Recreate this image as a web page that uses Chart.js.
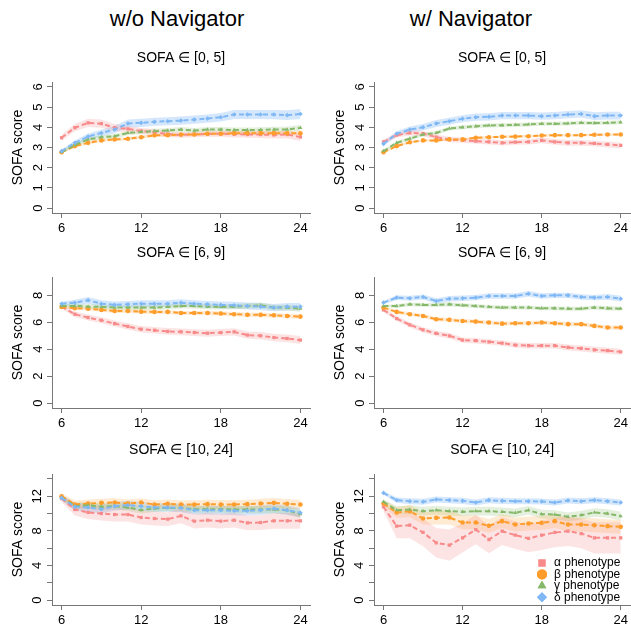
<!DOCTYPE html>
<html>
<head>
<meta charset="utf-8">
<script src="https://cdn.jsdelivr.net/npm/chart.js@4.4.1/dist/chart.umd.min.js"></script>
<style>
  body { margin: 0; background: #fff; }
  #wrap { position: relative; width: 631px; height: 631px; overflow: hidden;
          font-family: "Liberation Sans", Arial, sans-serif; }
  #wrap canvas { position: absolute; }
  .head { position: absolute; top: 6px; font-size: 22px; color: #000;
          transform: translateX(-50%); white-space: nowrap; }
</style>
</head>
<body>
<div id="wrap">
  <div class="head" style="left:177px">w/o Navigator</div>
  <div class="head" style="left:471px">w/ Navigator</div>
  <canvas id="c00" width="315" height="205" style="left:0;top:40px"></canvas>
  <canvas id="c01" width="316" height="205" style="left:315px;top:40px"></canvas>
  <canvas id="c10" width="315" height="205" style="left:0;top:235px"></canvas>
  <canvas id="c11" width="316" height="205" style="left:315px;top:235px"></canvas>
  <canvas id="c20" width="315" height="205" style="left:0;top:432px"></canvas>
  <canvas id="c21" width="316" height="205" style="left:315px;top:432px"></canvas>
</div>
<script>
// hours after admission
const hours = [6, 7, 8, 9, 10, 11, 12, 13, 14, 15, 16, 17, 18, 19, 20, 21, 22, 23, 24];
const xTicks = [6, 12, 18, 24];
const phenotypes = ['α phenotype', 'β phenotype', 'γ phenotype', 'δ phenotype'];

// SOFA in [0, 5], without navigator
const wo05Alpha = [3.48, 3.98, 4.22, 4.18, 3.98, 3.92, 3.82, 3.76, 3.66, 3.62, 3.65, 3.67, 3.68, 3.66, 3.64, 3.64, 3.62, 3.64, 3.52];
const wo05Beta  = [2.77, 3.07, 3.23, 3.35, 3.40, 3.43, 3.51, 3.60, 3.61, 3.64, 3.64, 3.68, 3.68, 3.71, 3.71, 3.71, 3.71, 3.70, 3.70];
const wo05Gamma = [2.77, 3.12, 3.40, 3.51, 3.56, 3.72, 3.77, 3.81, 3.84, 3.89, 3.84, 3.89, 3.89, 3.86, 3.86, 3.87, 3.89, 3.89, 3.97];
const wo05Delta = [2.82, 3.23, 3.54, 3.72, 3.89, 4.19, 4.22, 4.27, 4.30, 4.33, 4.38, 4.43, 4.50, 4.63, 4.63, 4.63, 4.63, 4.60, 4.66];
const wo05AlphaCi = [0.15, 0.18, 0.20, 0.20, 0.18, 0.16, 0.15, 0.15, 0.14, 0.14, 0.14, 0.15, 0.15, 0.16, 0.16, 0.17, 0.18, 0.19, 0.20];
const wo05BetaCi  = [0.06, 0.07, 0.08, 0.08, 0.08, 0.08, 0.08, 0.08, 0.08, 0.08, 0.08, 0.08, 0.09, 0.09, 0.09, 0.09, 0.10, 0.10, 0.10];
const wo05GammaCi = [0.07, 0.09, 0.10, 0.10, 0.11, 0.11, 0.11, 0.12, 0.12, 0.12, 0.12, 0.12, 0.13, 0.13, 0.13, 0.13, 0.14, 0.14, 0.15];
const wo05DeltaCi = [0.08, 0.12, 0.15, 0.16, 0.18, 0.20, 0.20, 0.20, 0.20, 0.20, 0.20, 0.20, 0.21, 0.22, 0.22, 0.22, 0.23, 0.24, 0.25];

// SOFA in [0, 5], with navigator
const w05Alpha = [3.28, 3.61, 3.72, 3.69, 3.51, 3.40, 3.36, 3.31, 3.28, 3.23, 3.26, 3.28, 3.35, 3.28, 3.23, 3.23, 3.20, 3.15, 3.10];
const w05Beta  = [2.77, 3.07, 3.26, 3.35, 3.35, 3.40, 3.40, 3.48, 3.51, 3.53, 3.54, 3.56, 3.59, 3.61, 3.61, 3.61, 3.63, 3.64, 3.64];
const w05Gamma = [2.82, 3.23, 3.44, 3.64, 3.72, 3.94, 4.00, 4.05, 4.09, 4.10, 4.12, 4.14, 4.17, 4.17, 4.19, 4.22, 4.21, 4.22, 4.25];
const w05Delta = [3.18, 3.68, 3.89, 4.00, 4.19, 4.30, 4.42, 4.50, 4.52, 4.58, 4.58, 4.58, 4.55, 4.58, 4.63, 4.66, 4.55, 4.58, 4.58];
const w05AlphaCi = [0.10, 0.12, 0.13, 0.13, 0.13, 0.13, 0.13, 0.13, 0.13, 0.13, 0.13, 0.13, 0.14, 0.14, 0.14, 0.14, 0.14, 0.15, 0.15];
const w05BetaCi  = [0.05, 0.06, 0.06, 0.06, 0.06, 0.06, 0.06, 0.06, 0.06, 0.06, 0.06, 0.06, 0.06, 0.06, 0.06, 0.07, 0.07, 0.07, 0.07];
const w05GammaCi = [0.06, 0.08, 0.09, 0.10, 0.10, 0.10, 0.10, 0.10, 0.10, 0.10, 0.10, 0.10, 0.10, 0.10, 0.10, 0.10, 0.10, 0.10, 0.10];
const w05DeltaCi = [0.10, 0.13, 0.15, 0.16, 0.17, 0.17, 0.17, 0.18, 0.18, 0.18, 0.18, 0.18, 0.18, 0.18, 0.18, 0.18, 0.19, 0.19, 0.19];

// SOFA in [6, 9], without navigator
const wo69Alpha = [7.16, 6.60, 6.35, 6.15, 5.90, 5.69, 5.49, 5.41, 5.32, 5.29, 5.24, 5.19, 5.24, 5.29, 5.05, 5.00, 4.87, 4.80, 4.68];
const wo69Beta  = [7.14, 7.04, 7.01, 6.92, 6.84, 6.84, 6.79, 6.77, 6.77, 6.69, 6.69, 6.69, 6.65, 6.60, 6.55, 6.55, 6.52, 6.47, 6.42];
const wo69Gamma = [7.21, 7.21, 7.16, 7.14, 7.09, 7.09, 7.09, 7.09, 7.14, 7.21, 7.21, 7.16, 7.14, 7.16, 7.21, 7.26, 7.09, 7.09, 7.01];
const wo69Delta = [7.38, 7.45, 7.63, 7.38, 7.29, 7.33, 7.38, 7.38, 7.38, 7.45, 7.38, 7.33, 7.29, 7.26, 7.21, 7.16, 7.09, 7.16, 7.16];
const wo69AlphaCi = [0.15, 0.20, 0.22, 0.22, 0.23, 0.23, 0.24, 0.24, 0.25, 0.25, 0.25, 0.26, 0.26, 0.27, 0.27, 0.28, 0.28, 0.29, 0.30];
const wo69BetaCi  = [0.10, 0.13, 0.14, 0.14, 0.15, 0.15, 0.15, 0.15, 0.15, 0.15, 0.15, 0.16, 0.16, 0.16, 0.16, 0.17, 0.17, 0.17, 0.18];
const wo69GammaCi = [0.12, 0.16, 0.17, 0.18, 0.18, 0.18, 0.18, 0.18, 0.18, 0.18, 0.18, 0.19, 0.19, 0.19, 0.20, 0.20, 0.20, 0.21, 0.22];
const wo69DeltaCi = [0.15, 0.22, 0.25, 0.25, 0.25, 0.25, 0.25, 0.25, 0.25, 0.25, 0.25, 0.25, 0.26, 0.26, 0.26, 0.27, 0.27, 0.28, 0.28];

// SOFA in [6, 9], with navigator
const w69Alpha = [6.92, 6.28, 5.81, 5.44, 5.17, 5.00, 4.68, 4.63, 4.55, 4.45, 4.31, 4.26, 4.26, 4.26, 4.13, 4.06, 3.96, 3.89, 3.81];
const w69Beta  = [7.09, 6.77, 6.60, 6.47, 6.23, 6.18, 6.10, 6.05, 5.98, 5.90, 5.93, 5.93, 5.98, 5.93, 5.86, 5.86, 5.73, 5.61, 5.61];
const w69Gamma = [7.21, 7.21, 7.33, 7.29, 7.29, 7.33, 7.26, 7.21, 7.14, 7.09, 7.09, 7.09, 7.04, 7.04, 7.01, 7.01, 7.09, 7.04, 7.01];
const w69Delta = [7.46, 7.83, 7.78, 7.88, 7.58, 7.75, 7.78, 7.83, 7.95, 7.95, 7.95, 8.12, 7.95, 8.00, 8.00, 7.88, 7.83, 7.88, 7.75];
const w69AlphaCi = [0.15, 0.18, 0.20, 0.20, 0.20, 0.20, 0.20, 0.20, 0.20, 0.20, 0.20, 0.20, 0.21, 0.21, 0.22, 0.22, 0.22, 0.23, 0.23];
const w69BetaCi  = [0.10, 0.13, 0.14, 0.14, 0.15, 0.15, 0.15, 0.15, 0.15, 0.15, 0.15, 0.15, 0.15, 0.15, 0.16, 0.16, 0.16, 0.16, 0.16];
const w69GammaCi = [0.10, 0.13, 0.14, 0.14, 0.15, 0.15, 0.15, 0.15, 0.15, 0.15, 0.15, 0.15, 0.15, 0.15, 0.15, 0.15, 0.15, 0.16, 0.16];
const w69DeltaCi = [0.12, 0.18, 0.19, 0.19, 0.20, 0.20, 0.20, 0.20, 0.20, 0.20, 0.20, 0.20, 0.20, 0.20, 0.20, 0.20, 0.20, 0.21, 0.21];

// SOFA in [10, 24], without navigator
const wo1024Alpha = [11.73, 10.46, 10.12, 10.00, 9.88, 9.88, 9.54, 9.42, 9.35, 9.73, 9.12, 9.23, 9.12, 9.23, 8.92, 8.96, 9.15, 9.15, 9.15];
const wo1024Beta  = [12.00, 11.04, 11.15, 11.23, 11.27, 11.15, 11.27, 11.04, 11.12, 11.04, 11.04, 11.08, 11.04, 11.04, 11.08, 11.15, 11.23, 11.12, 11.04];
const wo1024Gamma = [11.85, 10.85, 10.96, 10.77, 10.85, 10.69, 10.38, 10.58, 10.65, 10.65, 10.50, 10.50, 10.50, 10.46, 10.46, 10.46, 10.46, 10.38, 9.92];
const wo1024Delta = [11.80, 10.77, 10.69, 10.50, 10.85, 10.96, 10.85, 10.69, 10.69, 10.65, 10.38, 10.38, 10.38, 10.31, 10.31, 10.38, 10.58, 10.38, 10.08];
const wo1024AlphaCi = [0.40, 0.70, 0.75, 0.80, 0.80, 0.80, 0.80, 0.80, 0.80, 0.85, 0.85, 0.85, 0.85, 0.85, 0.85, 0.85, 0.90, 0.90, 0.90];
const wo1024BetaCi  = [0.30, 0.45, 0.48, 0.50, 0.50, 0.50, 0.50, 0.50, 0.50, 0.50, 0.50, 0.50, 0.52, 0.52, 0.52, 0.55, 0.55, 0.55, 0.55];
const wo1024GammaCi = [0.30, 0.38, 0.40, 0.40, 0.40, 0.40, 0.40, 0.40, 0.40, 0.40, 0.40, 0.40, 0.42, 0.42, 0.42, 0.42, 0.44, 0.45, 0.45];
const wo1024DeltaCi = [0.30, 0.45, 0.48, 0.50, 0.50, 0.50, 0.50, 0.50, 0.50, 0.50, 0.50, 0.50, 0.52, 0.52, 0.53, 0.54, 0.55, 0.55, 0.55];

// SOFA in [10, 24], with navigator
const w1024Alpha = [10.77, 8.54, 8.65, 7.81, 6.62, 6.35, 7.19, 8.15, 7.00, 7.96, 7.50, 7.12, 7.50, 7.81, 7.96, 7.69, 7.19, 7.19, 7.19];
const w1024Beta  = [11.15, 10.12, 10.27, 9.42, 9.50, 9.54, 8.96, 8.96, 8.58, 9.12, 8.73, 8.85, 8.92, 9.12, 8.73, 8.73, 8.65, 8.54, 8.46];
const w1024Gamma = [11.35, 10.38, 10.46, 10.27, 10.38, 10.27, 10.19, 10.27, 10.27, 10.19, 10.08, 10.38, 9.92, 9.88, 9.62, 9.81, 10.12, 10.00, 9.69];
const w1024Delta = [12.38, 11.54, 11.42, 11.35, 11.62, 11.54, 11.46, 11.27, 11.54, 11.46, 11.42, 11.42, 11.38, 11.27, 11.50, 11.42, 11.54, 11.42, 11.27];
const w1024AlphaCi = [0.50, 1.40, 1.50, 1.60, 1.70, 1.80, 1.70, 1.70, 1.60, 1.60, 1.60, 1.60, 1.70, 1.70, 1.70, 1.70, 1.80, 1.80, 1.80];
const w1024BetaCi  = [0.40, 0.60, 0.70, 0.70, 0.80, 0.80, 0.80, 0.80, 0.80, 0.80, 0.80, 0.80, 0.80, 0.80, 0.80, 0.80, 0.80, 0.80, 0.80];
const w1024GammaCi = [0.30, 0.45, 0.50, 0.50, 0.50, 0.50, 0.50, 0.50, 0.50, 0.50, 0.50, 0.50, 0.50, 0.50, 0.50, 0.50, 0.50, 0.50, 0.50];
const w1024DeltaCi = [0.20, 0.30, 0.35, 0.35, 0.35, 0.35, 0.35, 0.35, 0.35, 0.35, 0.35, 0.35, 0.35, 0.35, 0.35, 0.35, 0.35, 0.35, 0.35];

// y axis ticks and the ones that carry a label
const yTicks05 = [0, 1, 2, 3, 4, 5, 6];
const yTicks69 = [0, 2, 4, 6, 8];
const yTicks1024 = [0, 2, 4, 6, 8, 10, 12, 14];
const yLabels1024 = [0, 4, 8, 12];

const lineColors = ['#f88a8a', '#ff9d2c', '#86b86a', '#7fb8f4'];
const bandColors = ['rgba(248,130,130,0.22)', 'rgba(255,165,60,0.22)', 'rgba(130,185,100,0.22)', 'rgba(120,180,245,0.32)'];
const markers = ['rect', 'circle', 'triangle', 'rectRot'];
const axisColor = '#777';
const fontFamily = '"Liberation Sans", Arial, sans-serif';

const legendPlugin = {
    id: 'phenoLegend',
    afterDraw(chart) {
        const ctx = chart.ctx;
        const area = chart.chartArea;
        ctx.save();
        ctx.font = '12px ' + fontFamily;
        ctx.textBaseline = 'middle';
        ctx.fillStyle = '#000';
        phenotypes.forEach((label, i) => {
            const y = area.top + 89 + i * 11.4;
            const x = area.left + 168;
            ctx.fillStyle = lineColors[i];
            Chart.helpers.drawPoint(ctx, {pointStyle: markers[i], radius: 5, rotation: 0, borderWidth: 0}, x, y);
            ctx.fill();
            ctx.fillStyle = '#000';
            ctx.fillText(label, x + 12, y);
        });
        ctx.restore();
    }
};

function makePanel(id, title, means, cis, yRange, yTicks, yLabels, col, legend) {
    const datasets = [];
    means.forEach((m, i) => {
        datasets.push({
            data: hours.map((h, j) => ({x: h, y: m[j] + cis[i][j]})),
            borderWidth: 0, pointRadius: 0, fill: false, order: 10
        });
        datasets.push({
            data: hours.map((h, j) => ({x: h, y: m[j] - cis[i][j]})),
            borderWidth: 0, pointRadius: 0, fill: '-1', backgroundColor: bandColors[i], order: 10
        });
    });
    means.forEach((m, i) => {
        datasets.push({
            label: phenotypes[i],
            data: hours.map((h, j) => ({x: h, y: m[j]})),
            borderColor: lineColors[i],
            borderWidth: 2,
            borderDash: [5, 3],
            pointStyle: markers[i],
            pointRadius: 2.3,
            pointBorderWidth: 0,
            pointBackgroundColor: lineColors[i],
            fill: false,
            order: 4 - i
        });
    });

    new Chart(document.getElementById(id), {
        type: 'line',
        data: {datasets: datasets},
        plugins: legend ? [legendPlugin] : [],
        options: {
            responsive: false,
            animation: false,
            devicePixelRatio: 1,
            layout: {padding: {left: 0, right: col === 0 ? 5 : 0, top: 0, bottom: 0}, autoPadding: false},
            plugins: {
                legend: {display: false},
                tooltip: {enabled: false},
                title: {
                    display: true, text: title, fullSize: false, color: '#000',
                    font: {size: 14, weight: 'normal', family: fontFamily},
                    padding: {top: 9.6, bottom: 15.6}
                }
            },
            scales: {
                x: {
                    type: 'linear', min: 5.28, max: 24.72,
                    afterBuildTicks: s => { s.ticks = xTicks.map(v => ({value: v})); },
                    afterFit: s => { s.height = 32; },
                    border: {display: true, color: axisColor},
                    grid: {drawOnChartArea: false, drawTicks: true, tickLength: 5, color: axisColor},
                    ticks: {autoSkip: false, maxRotation: 0, padding: 3, color: '#000',
                            font: {size: 13, family: fontFamily}}
                },
                y: {
                    type: 'linear', min: yRange[0], max: yRange[1],
                    afterBuildTicks: s => { s.ticks = yTicks.map(v => ({value: v})); },
                    afterFit: s => { s.width = col === 0 ? 52 : 59; },
                    border: {display: true, color: axisColor},
                    grid: {drawOnChartArea: false, drawTicks: true, tickLength: 5, color: axisColor},
                    ticks: {autoSkip: false, minRotation: 90, maxRotation: 90, crossAlign: 'center',
                            padding: yLabels.some(v => v >= 10) ? 2 : 5, color: '#000',
                            font: {size: 13, family: fontFamily},
                            callback: v => yLabels.includes(v) ? String(v) : ''},
                    title: {display: true, text: 'SOFA score', color: '#000',
                            font: {size: 14, family: fontFamily},
                            padding: {top: col === 0 ? 9.6 : 16.6, bottom: 0}}
                }
            }
        }
    });
}

makePanel('c00', 'SOFA ∈ [0, 5]', [wo05Alpha, wo05Beta, wo05Gamma, wo05Delta],
    [wo05AlphaCi, wo05BetaCi, wo05GammaCi, wo05DeltaCi], [-0.24, 6.24], yTicks05, yTicks05, 0, false);
makePanel('c01', 'SOFA ∈ [0, 5]', [w05Alpha, w05Beta, w05Gamma, w05Delta],
    [w05AlphaCi, w05BetaCi, w05GammaCi, w05DeltaCi], [-0.24, 6.24], yTicks05, yTicks05, 1, false);
makePanel('c10', 'SOFA ∈ [6, 9]', [wo69Alpha, wo69Beta, wo69Gamma, wo69Delta],
    [wo69AlphaCi, wo69BetaCi, wo69GammaCi, wo69DeltaCi], [-0.36, 9.36], yTicks69, yTicks69, 0, false);
makePanel('c11', 'SOFA ∈ [6, 9]', [w69Alpha, w69Beta, w69Gamma, w69Delta],
    [w69AlphaCi, w69BetaCi, w69GammaCi, w69DeltaCi], [-0.36, 9.36], yTicks69, yTicks69, 1, false);
makePanel('c20', 'SOFA ∈ [10, 24]', [wo1024Alpha, wo1024Beta, wo1024Gamma, wo1024Delta],
    [wo1024AlphaCi, wo1024BetaCi, wo1024GammaCi, wo1024DeltaCi], [-0.56, 14.56], yTicks1024, yLabels1024, 0, false);
makePanel('c21', 'SOFA ∈ [10, 24]', [w1024Alpha, w1024Beta, w1024Gamma, w1024Delta],
    [w1024AlphaCi, w1024BetaCi, w1024GammaCi, w1024DeltaCi], [-0.56, 14.56], yTicks1024, yLabels1024, 1, true);
</script>
</body>
</html>
